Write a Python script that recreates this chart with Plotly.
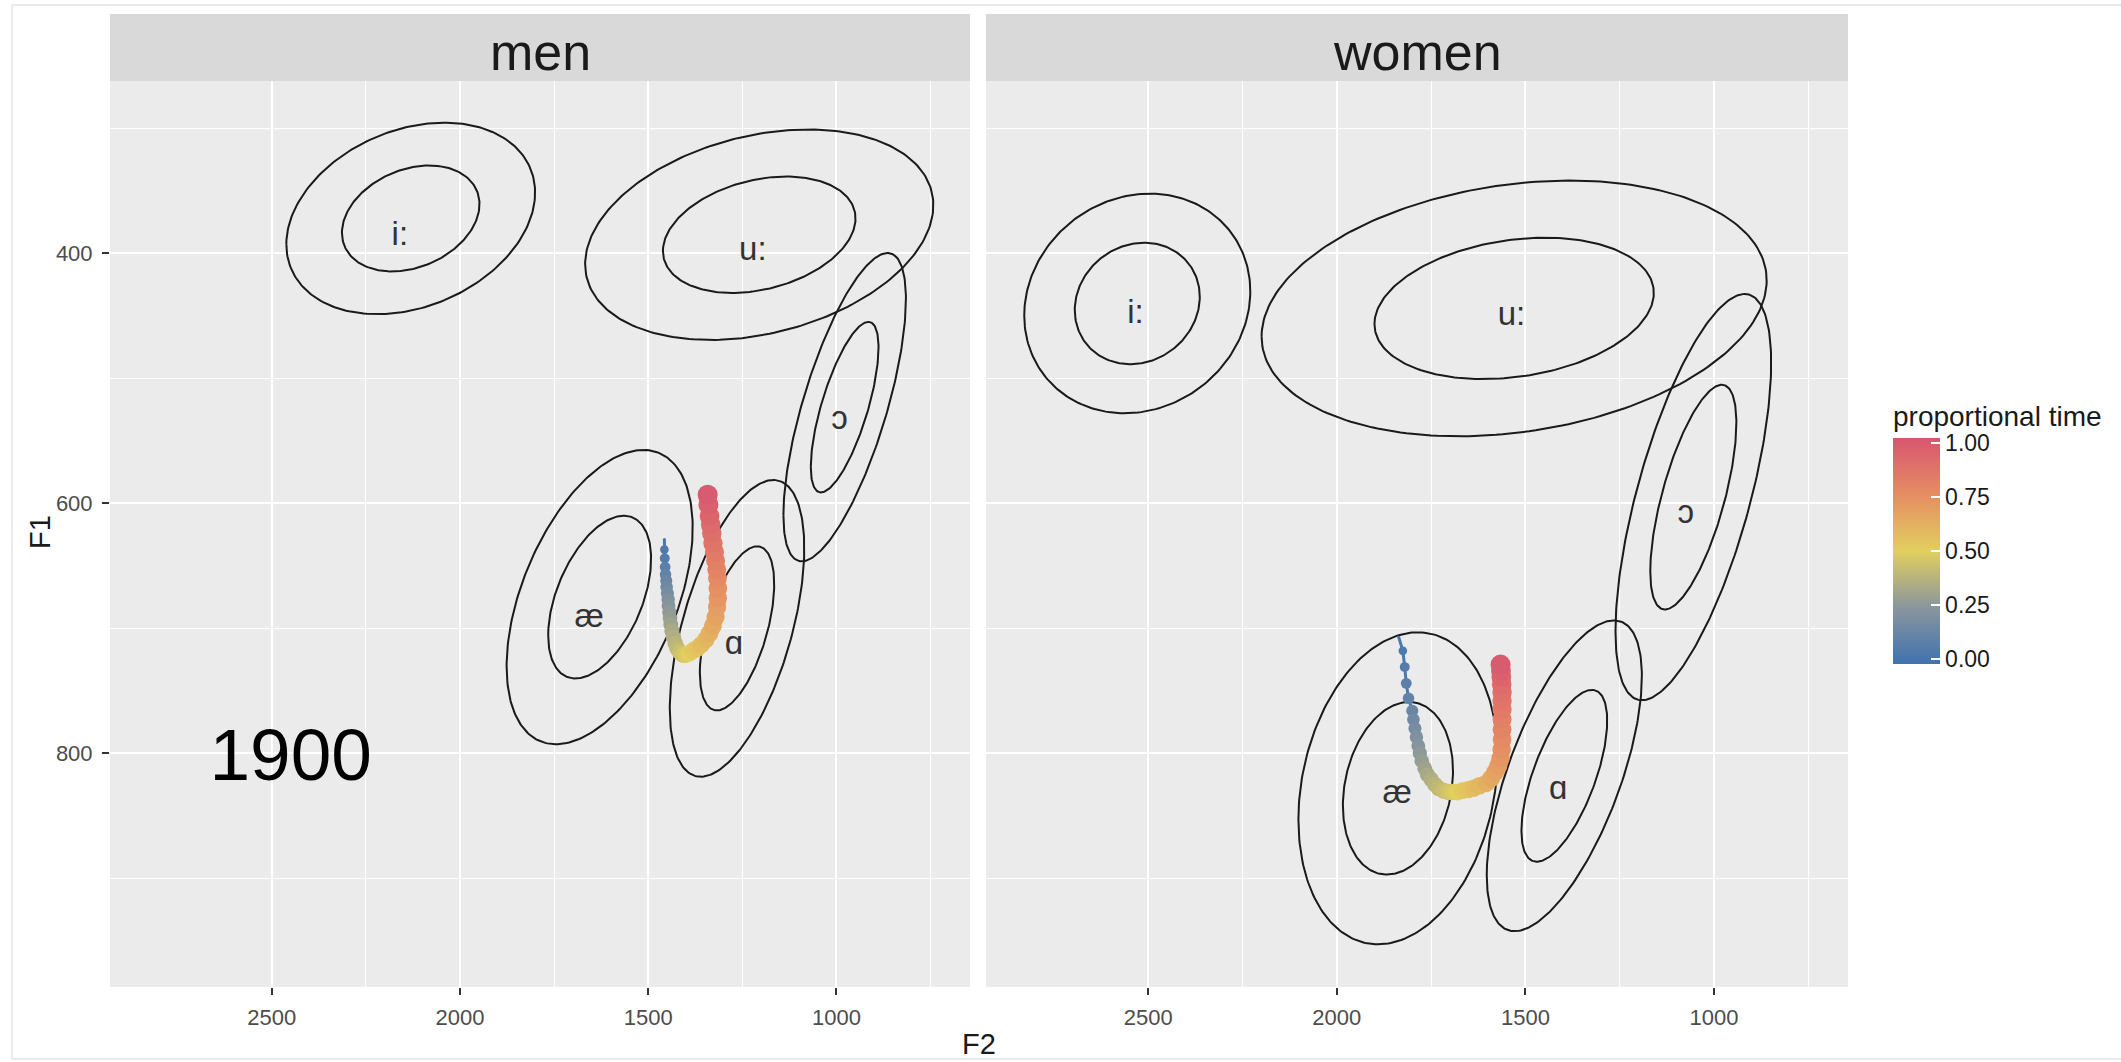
import numpy as np
import plotly.graph_objects as go

# ---------------- data ----------------
vowels = ["i:", "u:", "ɔ", "æ", "ɑ"]

# men: ellipse parameters (mean, sd, correlation) in Hz
men_f2_mean = [2131, 1205, 978, 1629, 1264]
men_f1_mean = [372, 385, 523, 675, 700]
men_f2_sd = [135, 189, 66.5, 101, 73]
men_f1_sd = [31.3, 34.4, 50.4, 48.1, 48.5]
men_rho = [0.27, 0.28, 0.70, 0.47, 0.54]
men_lab_f2 = [2160, 1222, 992, 1657, 1272]
men_lab_f1 = [383, 395, 530, 688, 710]

# women
wom_f2_mean = [2529, 1530, 1055, 1838, 1397]
wom_f1_mean = [440, 444, 595, 828, 818]
wom_f2_sd = [122.4, 273.5, 84.3, 107.8, 84]
wom_f1_sd = [35.9, 41.8, 66.4, 51, 50.8]
wom_rho = [0.11, 0.22, 0.66, 0.20, 0.64]
wom_lab_f2 = [2534, 1537, 1075, 1840, 1413]
wom_lab_f1 = [445, 447, 605, 829, 826]

ellipse_levels = [0.6, 0.95]

# trajectories (proportional time, F2, F1)
traj_t = [0.000, 0.025, 0.050, 0.075, 0.100, 0.125, 0.150, 0.175, 0.200, 0.225,
          0.250, 0.275, 0.300, 0.325, 0.350, 0.375, 0.400, 0.425, 0.450, 0.475,
          0.500, 0.525, 0.550, 0.575, 0.600, 0.625, 0.650, 0.675, 0.700, 0.725,
          0.750, 0.775, 0.800, 0.825, 0.850, 0.875, 0.900, 0.925, 0.950, 0.975, 1.000]

men_traj_f2 = [1457, 1457, 1456, 1455, 1454, 1452, 1451, 1449, 1447, 1446,
               1444, 1442, 1440, 1437, 1433, 1428, 1423, 1416, 1408, 1400,
               1391, 1381, 1370, 1359, 1347, 1337, 1328, 1321, 1317, 1315,
               1315, 1316, 1318, 1321, 1324, 1328, 1331, 1334, 1337, 1340, 1342]
men_traj_f1 = [629, 637, 644, 651, 657, 662, 667, 672, 677, 682,
               687, 692, 697, 702, 707, 712, 716, 719, 721, 721,
               720, 718, 716, 713, 709, 704, 698, 691, 683, 676,
               668, 660, 653, 646, 639, 632, 624, 617, 610, 601, 593]

wom_traj_f2 = [1836, 1825, 1820, 1816, 1810, 1800, 1797, 1793, 1789, 1784,
               1780, 1775, 1767, 1760, 1750, 1740, 1730, 1717, 1705, 1693,
               1680, 1667, 1652, 1638, 1622, 1604, 1591, 1580, 1572, 1566,
               1563, 1562, 1562, 1562, 1562, 1562, 1562, 1563, 1564, 1565, 1566]
wom_traj_f1 = [707, 718, 731, 744, 756, 766, 773, 780, 787, 794,
               800, 806, 812, 817, 821, 825, 828, 830, 831, 831,
               831, 830, 829, 828, 826, 824, 820, 815, 810, 804,
               797, 789, 781, 773, 765, 758, 751, 745, 739, 734, 729]

panels = ["men", "women"]
year_label = "1900"
year_f2, year_f1 = 2450, 807

x_ticks = [2500, 2000, 1500, 1000]
x_minor = [2250, 1750, 1250, 750]
y_ticks = [400, 600, 800]
y_minor = [300, 500, 700, 900]
legend_ticks = [0, 0.25, 0.5, 0.75, 1]

# ---------------- style ----------------
W, H = 2121, 1062
FONT = "Liberation Sans, Arial, DejaVu Sans, sans-serif"
colorscale = [[0.0, "#3F72B0"], [0.25, "#8A969C"], [0.5, "#E2CF5E"],
              [0.75, "#E58D63"], [1.0, "#D85670"]]
LABEL_DY = 4  # small vertical nudge so glyph centres match


def fx(p):
    return p / W


def fy(p):
    return 1 - p / H


def ellipse(mx, my, sx, sy, rho, level, n=240):
    r = np.sqrt(-2 * np.log(1 - level))
    th = np.linspace(0, 2 * np.pi, n)
    x = mx + r * sx * np.cos(th)
    y = my + r * sy * (rho * np.cos(th) + np.sqrt(1 - rho ** 2) * np.sin(th))
    return x, y


fig = go.Figure()

panel_data = [
    (men_f2_mean, men_f1_mean, men_f2_sd, men_f1_sd, men_rho, men_lab_f2, men_lab_f1,
     men_traj_f2, men_traj_f1, "x", "y"),
    (wom_f2_mean, wom_f1_mean, wom_f2_sd, wom_f1_sd, wom_rho, wom_lab_f2, wom_lab_f1,
     wom_traj_f2, wom_traj_f1, "x2", "y2"),
]

sizes = [3 + 17 * t ** 0.3 for t in traj_t]

for k, (m2, m1, s2, s1, rh, l2, l1, tf2, tf1, xa, ya) in enumerate(panel_data):
    for i in range(len(vowels)):
        for lev in ellipse_levels:
            ex, ey = ellipse(m2[i], m1[i], s2[i], s1[i], rh[i], lev)
            fig.add_trace(go.Scatter(x=ex, y=ey, mode="lines",
                                     line=dict(color="#1A1A1A", width=2),
                                     xaxis=xa, yaxis=ya, showlegend=False,
                                     hoverinfo="skip"))
    fig.add_trace(go.Scatter(x=l2, y=[v + LABEL_DY for v in l1], mode="text", text=vowels,
                             textfont=dict(size=33, color="#333333", family=FONT),
                             xaxis=xa, yaxis=ya, showlegend=False, hoverinfo="skip"))
    fig.add_trace(go.Scatter(x=tf2, y=tf1, mode="lines",
                             line=dict(color="#4A78B0", width=3),
                             xaxis=xa, yaxis=ya, showlegend=False, hoverinfo="skip"))
    fig.add_trace(go.Scatter(
        x=tf2, y=tf1, mode="markers",
        marker=dict(size=sizes, color=traj_t, colorscale=colorscale,
                    cmin=-0.023, cmax=1.023,
                    line=dict(width=0), opacity=1,
                    showscale=(k == 1),
                    colorbar=dict(
                        title=dict(text="proportional time", side="top",
                                   font=dict(size=28, color="#1A1A1A", family=FONT)),
                        x=fx(1893), xanchor="left", xpad=0,
                        y=fy(402), yanchor="top", ypad=0,
                        len=262, lenmode="pixels", thickness=47, thicknessmode="pixels",
                        tickvals=legend_ticks,
                        ticktext=["%.2f" % v for v in legend_ticks],
                        ticks="inside", tickcolor="white", ticklen=9, tickwidth=1.5,
                        tickfont=dict(size=23, color="#1A1A1A", family=FONT),
                        outlinewidth=0)),
        xaxis=xa, yaxis=ya, showlegend=False, hoverinfo="skip"))

# year label
fig.add_trace(go.Scatter(x=[year_f2], y=[year_f1], mode="text", text=[year_label],
                         textfont=dict(size=73, color="#000000", family=FONT),
                         xaxis="x", yaxis="y", showlegend=False, hoverinfo="skip"))

xdom1 = [fx(110), fx(970)]
xdom2 = [fx(986), fx(1848)]
ydom = [fy(987), fy(81)]

xcommon = dict(range=[2930, 645], autorange=False, tickvals=x_ticks,
               ticktext=[str(v) for v in x_ticks],
               showgrid=True, gridcolor="white", gridwidth=2,
               minor=dict(tickvals=x_minor, showgrid=True, gridcolor="white",
                          gridwidth=1, ticks=""),
               zeroline=False, showline=False, ticks="outside", ticklen=7,
               tickwidth=1.5, tickcolor="#333333",
               tickfont=dict(size=22, color="#4D4D4D", family=FONT),
               ticklabelstandoff=4)
ycommon = dict(range=[987, 262], autorange=False, tickvals=y_ticks,
               ticktext=[str(v) for v in y_ticks],
               showgrid=True, gridcolor="white", gridwidth=2,
               minor=dict(tickvals=y_minor, showgrid=True, gridcolor="white",
                          gridwidth=1, ticks=""),
               zeroline=False, showline=False, domain=ydom)

fig.update_layout(
    width=W, height=H,
    margin=dict(l=0, r=0, t=0, b=0),
    paper_bgcolor="white", plot_bgcolor="#EBEBEB",
    font=dict(family=FONT),
    xaxis=dict(domain=xdom1, anchor="y", **xcommon),
    xaxis2=dict(domain=xdom2, anchor="y2", **xcommon),
    yaxis=dict(anchor="x", ticks="outside", ticklen=7, tickwidth=1.5,
               tickcolor="#333333",
               tickfont=dict(size=22, color="#4D4D4D", family=FONT),
               ticklabelstandoff=5, **ycommon),
    yaxis2=dict(anchor="x2", showticklabels=False, ticks="", **ycommon),
    showlegend=False,
)

shapes = []
annotations = []
for name, dom in zip(panels, [xdom1, xdom2]):
    shapes.append(dict(type="rect", xref="paper", yref="paper",
                       x0=dom[0], x1=dom[1], y0=fy(81), y1=fy(14),
                       fillcolor="#D9D9D9", line=dict(width=0), layer="below"))
    annotations.append(dict(text=name, xref="paper", yref="paper",
                            x=(dom[0] + dom[1]) / 2, y=fy(52),
                            xanchor="center", yanchor="middle", showarrow=False,
                            font=dict(size=52, color="#1A1A1A", family=FONT)))
# outer border
shapes.append(dict(type="rect", xref="paper", yref="paper",
                   x0=fx(12), x1=1.05, y0=fy(1059), y1=fy(5),
                   line=dict(color="#E3E3E3", width=1.5), fillcolor="rgba(0,0,0,0)",
                   layer="below"))
annotations.append(dict(text="F2", xref="paper", yref="paper", x=fx(979), y=fy(1044),
                        xanchor="center", yanchor="middle", showarrow=False,
                        font=dict(size=29, color="#1A1A1A", family=FONT)))
annotations.append(dict(text="F1", xref="paper", yref="paper", x=fx(40), y=fy(532),
                        xanchor="center", yanchor="middle", showarrow=False, textangle=-90,
                        font=dict(size=29, color="#1A1A1A", family=FONT)))
fig.update_layout(shapes=shapes, annotations=annotations)

fig.write_html("out.html",
               config={"displayModeBar": False},
               post_script="document.body.style.margin='0px';"
                           "document.body.style.overflow='hidden';")
